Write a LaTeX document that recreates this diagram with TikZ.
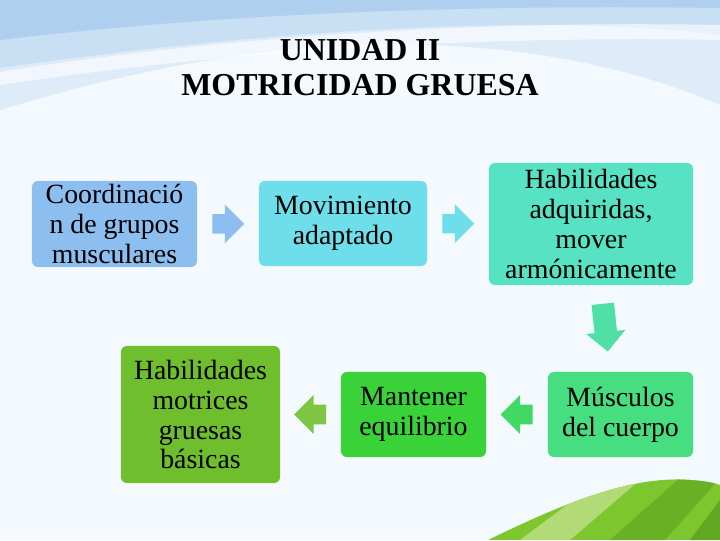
\documentclass[tikz,border=0pt]{standalone}
\usepackage{fontspec}
\setmainfont{Liberation Serif}
\usetikzlibrary{shapes.arrows,calc}
\definecolor{colPage}{RGB}{244,249,253}
\definecolor{colWaveA}{RGB}{222,235,248}
\definecolor{colWaveB}{RGB}{200,223,244}
\definecolor{colWaveC}{RGB}{175,207,238}
\definecolor{colBlue}{RGB}{141,190,240}
\definecolor{colCyan}{RGB}{110,222,234}
\definecolor{colTeal}{RGB}{88,226,196}
\definecolor{colMint}{RGB}{70,222,128}
\definecolor{colGreen}{RGB}{57,210,57}
\definecolor{colOlive}{RGB}{110,190,45}
\definecolor{colLeaf}{RGB}{125,198,45}
\definecolor{colLeafLight}{RGB}{178,218,118}
\definecolor{colLeafDark}{RGB}{96,168,32}

\begin{document}
\begin{tikzpicture}[x=0.025cm,y=-0.025cm,
    every node/.style={font=\fontsize{19.8}{21.3}\selectfont},
    box/.style={rectangle, rounded corners=0.15cm, align=center, inner sep=2pt},
    blockarrow/.style={single arrow, anchor=tail, minimum height=0.8cm, minimum width=0.95cm,
        single arrow head extend=0.24cm, inner xsep=0pt, inner ysep=0.2375cm},
    bigarrow/.style={blockarrow, minimum height=1.2cm, minimum width=0.98cm,
        single arrow head extend=0.21cm, inner ysep=0.275cm}
]
    % page and background waves
    \fill[colPage] (0,0) rectangle (720,540);
    \useasboundingbox (0,0) rectangle (720,540);
    \fill[colWaveA] (0,0) -- (720,0) -- (720,105) .. controls (640,70) and (520,40) .. (360,45)
        .. controls (220,50) and (100,80) .. (0,110) -- cycle;
    \fill[colWaveB] (0,0) -- (720,0) -- (720,35) .. controls (560,15) and (300,25) .. (0,68) -- cycle;
    \fill[colWaveC] (0,0) -- (720,0) -- (720,8) .. controls (500,5) and (250,10) .. (0,40) -- cycle;
    \fill[white,opacity=0.6] (0,72) .. controls (200,40) and (450,20) .. (720,25)
        -- (720,40) .. controls (450,35) and (200,55) .. (0,85) -- cycle;

    % green leaf, bottom right
    \begin{scope}
        \clip (488,540) .. controls (560,505) and (630,475) .. (690,480)
            .. controls (705,481) and (715,483) .. (720,485) -- (720,540) -- cycle;
        \fill[colLeaf] (480,470) rectangle (720,540);
        \fill[colLeafLight] (520,540) -- (600,480) -- (640,480) -- (570,540) -- cycle;
        \fill[colLeafDark!70!colLeaf] (610,540) -- (680,478) -- (720,478) -- (665,540) -- cycle;
        \fill[colLeafDark] (690,540) -- (720,500) -- (720,540) -- cycle;
    \end{scope}

    % title
    \node[font=\bfseries\fontsize{22.7}{24.8}\selectfont, align=center] (title) at (360,68)
        {UNIDAD II\\MOTRICIDAD GRUESA};

    % upper row of boxes
    \node[box, fill=colBlue, minimum width=4.125cm, minimum height=2.15cm] (coord) at (114.5,224)
        {Coordinació\\n de grupos\\musculares};
    \node[box, fill=colCyan, minimum width=4.2cm, minimum height=2.125cm] (movim) at (343,223.5)
        {Movimiento\\adaptado};
    \node[box, fill=colTeal, minimum width=5.1cm, minimum height=3.05cm] (habadq) at (591,224)
        {Habilidades\\adquiridas,\\mover\\armónicamente};

    % lower row of boxes
    \node[box, fill=colMint, minimum width=3.625cm, minimum height=2.125cm] (musc) at (620.5,414.5)
        {Músculos\\del cuerpo};
    \node[box, fill=colGreen, minimum width=3.625cm, minimum height=2.125cm] (equil) at (413.5,414.5)
        {Mantener\\equilibrio};
    \node[box, fill=colOlive, minimum width=3.975cm, minimum height=3.425cm] (habmot) at (200.5,414.5)
        {Habilidades\\motrices\\gruesas\\básicas};

    % block arrows between boxes (tail half a length back from the midpoint)
    \node[blockarrow, fill=colBlue] (a1) at ($(coord.east)!0.5!(movim.west)!0.4cm!(coord.east)$) {};
    \node[blockarrow, fill=colCyan] (a2) at ($(movim.east)!0.5!(habadq.west)!0.4cm!(movim.east)$) {};
    \node[bigarrow, fill=colTeal!55!colMint, rotate=-84] (a3)
        at ($(habadq.south)!0.5!(musc.north)+(-3,-25)$) {};
    \node[blockarrow, fill=colMint!60!colGreen, rotate=180] (a4)
        at ($(musc.west)!0.5!(equil.east)!0.4cm!(musc.west)$) {};
    \node[blockarrow, fill=colOlive!90!white, rotate=180] (a5)
        at ($(equil.west)!0.5!(habmot.east)!0.4cm!(equil.west)$) {};
\end{tikzpicture}
\end{document}
